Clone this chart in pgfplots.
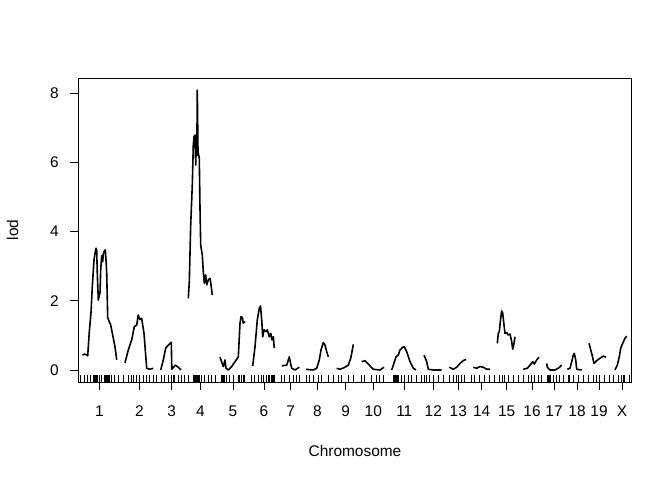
\documentclass[border=0pt]{standalone}
\usepackage{pgfplots}
\pgfplotsset{compat=1.18}
\usepackage{fontspec}
\setmainfont{Liberation Sans}
\begin{document}
\begin{tikzpicture}
\useasboundingbox (0,0) rectangle (672bp,480bp);
\begin{axis}[
  at={(78.3bp,98bp)}, anchor=south west,
  scale only axis, width=553.4bp, height=303.7bp,
  xmin=78.3, xmax=631.7, ymin=-0.347, ymax=8.43,
  axis line style={line width=0.8bp},
  tick align=outside, major tick length=8bp,
  xtick pos=bottom, ytick pos=left,
  tick style={line width=0.8bp, black},
  xtick={99.5,139.3,171.7,200.3,233,264,290.7,317.3,345.7,373.3,404.3,433.3,458.3,481.7,506.7,532,554,577,599,622},
  xticklabels={1,2,3,4,5,6,7,8,9,10,11,12,13,14,15,16,17,18,19,X},
  ytick={0,2,4,6,8}, yticklabels={0,2,4,6,8},
  tick label style={font=\fontsize{15.5}{18}\selectfont},
  xticklabel style={anchor=north, yshift=-12bp},
  yticklabel style={anchor=east, xshift=-8bp},
  clip=false,
  lodline/.style={line width=1.6bp, black, solid, no markers, line join=round},
]
% chr 1
\addplot[lodline] coordinates {(82.5,0.43)(84.5,0.46)(86.5,0.44)(87.7,0.41)(89.3,1.10)(91,1.66)(92.3,2.41)(94,3.18)(95,3.37)(96,3.52)(96.7,3.45)(97.3,2.79)(98.3,2.02)(99.3,2.17)(100,2.22)(100.7,2.89)(101.7,3.30)(102.7,3.13)(103.3,3.35)(104,3.42)(105.3,3.47)(106.2,3.10)(106.7,2.80)(107.7,1.52)(108.5,1.45)(110.7,1.30)(113.3,0.92)(115,0.67)(116.7,0.29)};
% chr 2
\addplot[lodline] coordinates {(125,0.21)(128.3,0.58)(131.7,0.87)(134.3,1.25)(136.7,1.30)(138.3,1.59)(139.3,1.50)(140,1.46)(141.7,1.49)(144,1.06)(146.7,0.05)(150,0.02)(153.3,0.05)};
% chr 3
\addplot[lodline] coordinates {(160.7,0)(163.3,0.29)(165.7,0.63)(168.3,0.72)(171.3,0.80)(171.8,0.02)(175.3,0.14)(178.3,0.08)(181,0)};
% chr 4
\addplot[lodline] coordinates {(188.3,2.07)(189.3,2.55)(190.7,4.19)(192.3,5.35)(193.3,6.50)(194,6.74)(195,6.79)(195.7,5.92)(196.3,6.79)(196.8,6.2)(197.3,8.09)(198,6.31)(199.3,6.12)(200,4.67)(200.7,3.61)(202.3,3.32)(203.3,2.84)(204.3,2.51)(205.7,2.75)(206.7,2.46)(208.3,2.60)(210,2.65)(211,2.46)(212.3,2.17)};
% chr 5
\addplot[lodline] coordinates {(220,0.37)(223.3,0.10)(225,0.29)(226,0.05)(228.3,0)(231.7,0.10)(235,0.24)(238.3,0.38)(240,1.35)(241,1.54)(242.3,1.52)(243.3,1.35)(245,1.40)};
% chr 6
\addplot[lodline] coordinates {(252.7,0.12)(255,0.67)(257.3,1.45)(259.3,1.78)(260.5,1.85)(261.7,1.45)(262.7,0.96)(264,1.16)(266,1.11)(267.3,1.16)(269.3,0.96)(270.7,1.06)(272,0.87)(273.3,0.96)(274.3,0.63)};
% chr 7
\addplot[lodline] coordinates {(281.7,0.12)(286.7,0.14)(289.3,0.38)(290.5,0.2)(291.7,0.05)(295,0)(299.3,0.08)};
% chr 8
\addplot[lodline] coordinates {(306,0.02)(313.3,0)(316.7,0.05)(319.3,0.29)(321,0.58)(323.3,0.79)(325,0.72)(326.7,0.53)(328.3,0.38)};
% chr 9
\addplot[lodline] coordinates {(336.7,0.05)(340,0.02)(345,0.08)(348.3,0.14)(350.7,0.34)(351.7,0.48)(353.3,0.74)};
% chr 10
\addplot[lodline] coordinates {(361.7,0.24)(365,0.27)(368.3,0.17)(373.3,0.02)(380,0)(384,0.08)};
% chr 11
\addplot[lodline] coordinates {(391.7,0)(393.3,0.14)(396,0.38)(398.3,0.43)(400,0.58)(402.7,0.66)(404.3,0.67)(406.7,0.53)(410,0.24)(413.3,0.05)(416,0)};
% chr 12
\addplot[lodline] coordinates {(424,0.43)(426.7,0.24)(428.3,0.02)(433.3,0)(441.7,0)};
% chr 13
\addplot[lodline] coordinates {(449.3,0.08)(453.3,0.02)(456.7,0.08)(460,0.19)(463.3,0.27)(466,0.31)};
% chr 14
\addplot[lodline] coordinates {(473.3,0.08)(476.7,0.05)(480,0.10)(483.3,0.08)(486.7,0.02)(490,0.02)};
% chr 15
\addplot[lodline] coordinates {(497.3,0.77)(498.3,1.06)(499.3,1.11)(500.3,1.40)(501.7,1.71)(502.7,1.64)(504,1.30)(505,1.06)(506.7,1.08)(508.3,1.01)(510,1.04)(511.7,0.82)(512.7,0.60)(514,0.77)(515,0.96)};
% chr 16
\addplot[lodline] coordinates {(523.3,0.02)(527.3,0.05)(530,0.14)(532.7,0.24)(534.3,0.17)(536.7,0.29)(539,0.37)};
% chr 17
\addplot[lodline] coordinates {(546.7,0.19)(547.3,0.08)(550,0)(555,0)(558.3,0.05)(561.7,0.14)};
% chr 18
\addplot[lodline] coordinates {(567.3,0.02)(570,0.05)(571.7,0.24)(573.3,0.43)(574.3,0.48)(575.7,0.29)(576.7,0.02)(581.7,0)};
% chr 19
\addplot[lodline] coordinates {(589,0.77)(591.7,0.48)(594,0.19)(596.7,0.27)(600,0.34)(603.3,0.40)(606,0.37)};
% chr X
\addplot[lodline] coordinates {(615,0)(617.3,0.14)(619.3,0.38)(620.7,0.63)(622.7,0.77)(625,0.92)(626.7,0.98)};
% marker rug
\addplot[black, only marks, mark=|, mark size=3.5bp, mark options={line width=0.8bp, solid}] table[y expr=-0.246] {
x
80.7
84
87.3
90.7
93
94.7
95.5
96.3
97.3
99.7
101.3
104
105
106
107
108
109.7
111.3
114.7
118
123
128
131.3
133
136.3
139.7
143
146.3
149.7
153
156.3
161.3
164.7
168
171.3
173
174.7
178
181.3
184.7
188
193
194
195
196
197
198
199
199.7
201.3
204.7
208
211.3
215.3
221.3
222.3
223
224
224.7
226.3
229.7
233
238
239.7
241.3
243
244.7
251.3
254.7
258
261.3
263
266.3
268
269.7
271.3
272.3
273.3
274.7
281.3
284.7
289.7
293
296.3
299.7
306.3
309.7
313
318
321.3
328
333
338
341.3
348
353
361.3
364.7
371.3
376.3
379.7
383
393
394
395
396
397
398
401.3
404.7
408
411.3
416.3
421.3
424.7
426.3
429.7
433
438
443
449.7
453
456.3
458
461.3
464.7
471.3
474.7
479.7
484.7
489.7
494.7
499.7
502
504.7
508
513
518
523
528
531.3
534.7
538
541.3
547.3
548.2
549.1
550
553
556.3
559.7
563
568
569.7
573
578
583
588
593
596.3
599.7
604.7
609.7
613
618
621.3
623
624.7
629.7
};
\end{axis}
\node[font=\fontsize{15.5}{18}\selectfont] at (355bp,29bp) {Chromosome};
\node[font=\fontsize{15.5}{18}\selectfont, rotate=90] at (12.5bp,250bp) {lod};
\end{tikzpicture}
\end{document}
